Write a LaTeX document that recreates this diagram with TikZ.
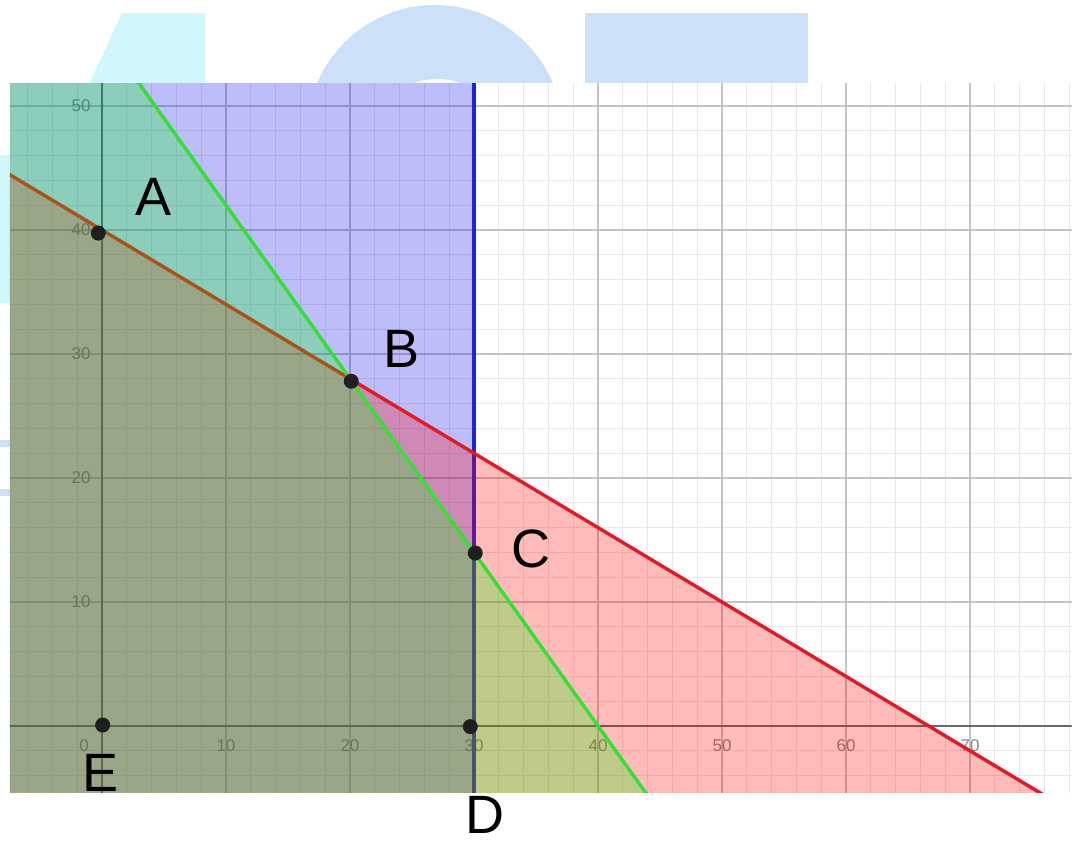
\documentclass[tikz,border=0pt]{standalone}
\usepackage{fontspec}
\setmainfont{Liberation Sans}
\definecolor{wmcyan}{RGB}{208,248,252}
\definecolor{wmblue}{RGB}{204,224,248}
\definecolor{gminor}{RGB}{232,232,232}
\definecolor{gmajor}{RGB}{196,196,196}
\definecolor{gaxis}{RGB}{105,105,105}
\definecolor{ticktext}{RGB}{135,135,135}
\definecolor{cblue}{RGB}{0,0,236}
\definecolor{cred}{RGB}{255,0,0}
\definecolor{cgreen}{RGB}{0,255,0}
\definecolor{lblue}{RGB}{35,35,205}
\definecolor{lred}{RGB}{222,28,40}
\definecolor{lgreen}{RGB}{55,222,55}
\tikzset{
  minorgrid/.style={draw=gminor,line width=0.8pt},
  majorgrid/.style={draw=gmajor,line width=1.2pt},
  axisline/.style={draw=gaxis,line width=1.6pt},
  ticklab/.style={text=ticktext,font=\fontsize{17}{17}\selectfont,inner sep=0pt},
  bluefill/.style={fill=cblue,fill opacity=0.26},
  redfill/.style={fill=cred,fill opacity=0.27},
  greenfill/.style={fill=cgreen,fill opacity=0.25},
  bline/.style={draw=lblue,line width=3.4pt},
  rline/.style={draw=lred,line width=3.4pt},
  gline/.style={draw=lgreen,line width=3.4pt},
  ptdot/.style={circle,fill=black!88,minimum size=15pt,inner sep=0pt},
  ptlab/.style={font=\fontsize{54}{54}\selectfont,text=black,inner sep=0pt}
}
\begin{document}
\begin{tikzpicture}[x=1pt,y=-1pt]
\useasboundingbox (0,0) rectangle (1080,841);
\fill[white] (0,0) rectangle (1080,841);
% watermark behind the screenshot
\fill[wmcyan] (122,13) -- (205,13) -- (205,84) -- (89,84) -- cycle;
\fill[wmcyan] (0,155) rectangle (10,303);
\fill[wmblue] (0,440) rectangle (10,447);
\fill[wmblue] (0,489) rectangle (10,496);
\fill[wmblue,even odd rule] (435,133) circle (128pt) (437,149) circle (70pt);
\fill[wmblue] (585,13) rectangle (808,84);
% graph
\begin{scope}[shift={(102pt,-726pt)},x=12.4pt,y=12.4pt]
  \clip (-7.42,-5.4) rectangle (78.2,51.8);
  \fill[white] (-8,-6) rectangle (80,53);
  \draw[minorgrid,step=2] (-8,-6) grid (80,52);
  \draw[majorgrid,step=10] (-8,-6) grid (80,52);
  \draw[axisline] (-8,0) -- (80,0);
  \draw[axisline] (0,-6) -- (0,53);
  \node[ticklab] (t0) at (-1.45,-1.55) {0};
  \foreach \k in {10,20,30,40,50,60,70}{
    \node[ticklab] (tx\k) at (\k,-1.55) {\k};
  }
  \foreach \k in {10,20,30,40,50}{
    \node[ticklab,anchor=east] (ty\k) at (-0.9,\k) {\k};
  }
  % constraint x <= 30
  \coordinate (b1) at (30,53);
  \coordinate (b2) at (30,-6);
  \fill[bluefill] (-8,-6) rectangle (30,53);
  \draw[bline] (b1) -- (b2);
  % constraint 3x+5y <= 200
  \coordinate (r1) at (-8,44.8);
  \coordinate (r2) at (76.67,-6);
  \fill[redfill] (r1) -- (r2) -- (-8,-6) -- cycle;
  \draw[rline] (r1) -- (r2);
  % constraint 7x+5y <= 280
  \coordinate (g1) at (2.857,52);
  \coordinate (g2) at (44.29,-6);
  \fill[greenfill] (-8,-6) -- (-8,52) -- (g1) -- (g2) -- cycle;
  \draw[gline] (g1) -- (g2);
  % corner points
  \node[ptdot] (pA) at (-0.3,39.75) {};
  \node[ptdot] (pB) at (20.1,27.8) {};
  \node[ptdot] (pC) at (30.1,13.95) {};
  \node[ptdot] (pD) at (29.7,-0.05) {};
  \node[ptdot] (pE) at (0.05,0.08) {};
\end{scope}
\begin{scope}[shift={(102pt,-726pt)},x=12.4pt,y=12.4pt]
  \node[ptlab] (lA) at (4.19,42.66) {A};
  \node[ptlab] (lB) at (24.19,30.4) {B};
  \node[ptlab] (lC) at (34.6,14.27) {C};
  \node[ptlab] (lD) at (30.89,-7.2) {D};
  \node[ptlab] (lE) at (-0.16,-3.8) {E};
\end{scope}
\end{tikzpicture}
\end{document}
